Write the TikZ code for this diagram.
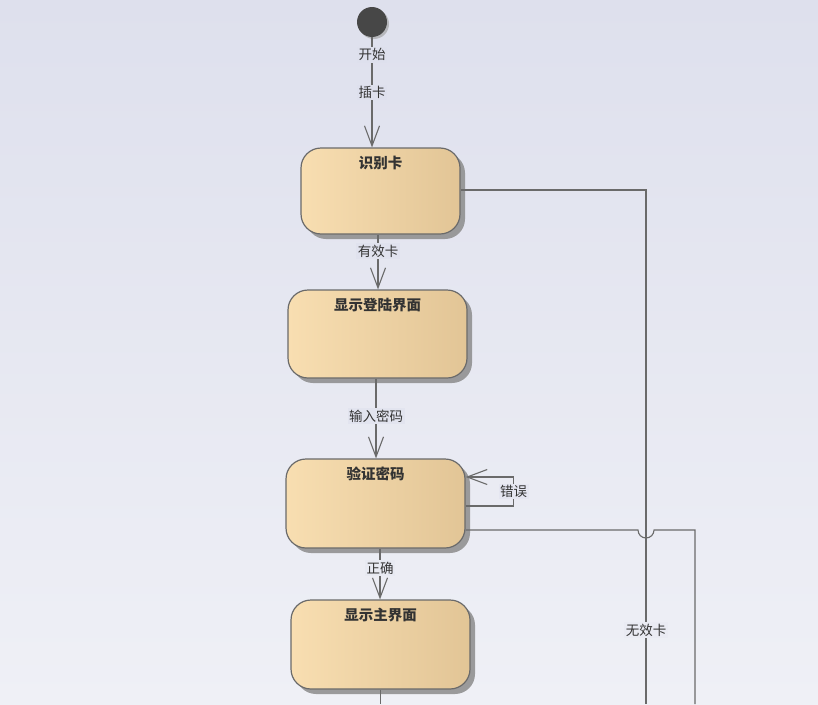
\documentclass[tikz,border=0pt]{standalone}
\usepackage{fontspec}
\newfontfamily\cjk{Noto Sans CJK SC}
\usetikzlibrary{arrows.meta,shadows,calc}
\definecolor{bgtop}{HTML}{DEE0ED}
\definecolor{bgbot}{HTML}{EFF0F6}
\definecolor{stleft}{HTML}{F8DEB1}
\definecolor{stright}{HTML}{E2C596}
\definecolor{edgegray}{HTML}{6A6A6A}
\definecolor{txtgray}{HTML}{333333}

\begin{document}
\begin{tikzpicture}[x=1pt, y=-1pt, >={Straight Barb[length=20pt,width=15pt]}]
        \tikzset{
            state/.style={draw=edgegray, line width=1.2pt, rectangle, rounded corners=20pt, left color=stleft, right color=stright, drop shadow={shadow xshift=5pt, shadow yshift=-5pt, fill=black!45, opacity=0.85}},
            title/.style={anchor=north, yshift=-5pt, font=\cjk\bfseries\fontsize{14.5}{16}\selectfont, text=txtgray},
            initial/.style={circle, fill=black!72, minimum size=30pt, inner sep=0pt, drop shadow={shadow xshift=2pt, shadow yshift=-2pt, fill=black!35, opacity=0.7}},
            lbl/.style={font=\cjk\fontsize{13.5}{15}\selectfont, text=txtgray, fill=bgtop!55!bgbot, inner sep=1.5pt},
            line/.style={draw=edgegray, line width=1.1pt}
        }
        \useasboundingbox (0,0) rectangle (818,704);
        \shade[top color=bgtop, bottom color=bgbot] (0,0) rectangle (818,704);

        % start point
        \node[initial] (start) at (372,22) {};

        % states
        \node[state, minimum width=159pt, minimum height=86pt, label={[title]north:识别卡}] (card) at (380.5,191) {};
        \node[state, minimum width=179pt, minimum height=88pt, label={[title]north:显示登陆界面}] (login) at (377.5,334) {};
        \node[state, minimum width=179pt, minimum height=89pt, label={[title]north:验证密码}] (check) at (375.5,503.5) {};
        \node[state, minimum width=179pt, minimum height=89pt, label={[title]north:显示主界面}] (main) at (380.5,644.5) {};

        % ends leaving the picture
        \coordinate (bot) at (0,704);
        \coordinate (hop) at (646,530);
        \coordinate (far) at (695,704);

        % transitions down the middle
        \path[line, ->] (start) -- node[lbl, pos=0.16, fill=bgtop] {开始} node[lbl, pos=0.5, fill=bgtop] {插卡} (start |- card.north);
        \path[line, ->] ([xshift=-2.5pt]card.south) -- node[lbl, pos=0.3, fill=bgtop!90!bgbot] {有效卡} ([xshift=-2.5pt]card.south |- login.north);
        \path[line, ->] ([xshift=-1.5pt]login.south) -- node[lbl, pos=0.47, fill=bgtop!75!bgbot] {输入密码} ([xshift=-1.5pt]login.south |- check.north);
        \path[line, ->] ([xshift=4.5pt]check.south) -- node[lbl, pos=0.38, fill=bgtop!40!bgbot] {正确} ([xshift=4.5pt]check.south |- main.north);
        \path[line] (main.south) -- (main.south |- bot);

        % wrong password loops back
        \path[line, ->] ([yshift=-2.5pt]check.east) -- ++(48,0) -- node[lbl, fill=bgtop!60!bgbot] {错误} ++(0,-29) -- ([yshift=26.5pt]check.east);

        % invalid card
        \path[line] ([yshift=1pt]card.east) -| node[lbl, pos=0.928, fill=bgtop!30!bgbot] {无效卡} (hop |- far);

        % from check, hopping over the invalid-card line
        \path[line] ([yshift=-26.5pt]check.east) -- ([xshift=-8pt]hop) arc[start angle=180, end angle=360, radius=8pt] -- (far |- hop) -- (far);
    \end{tikzpicture}
\end{document}
